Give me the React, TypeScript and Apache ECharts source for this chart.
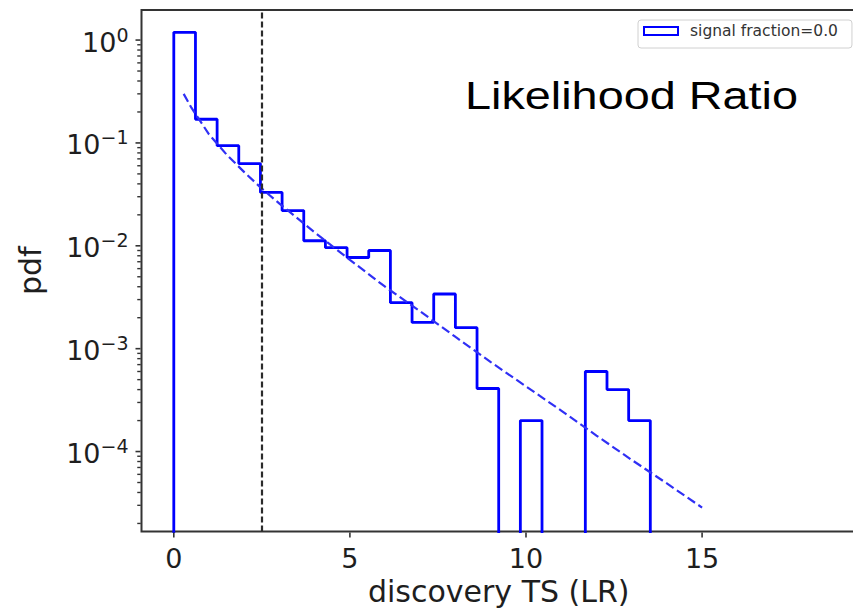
import React, { useEffect, useRef } from "react";
import * as echarts from "echarts";

// Histogram of the discovery test statistic (equal-width bins starting at 0)
const BIN_START = 0;
const BIN_WIDTH = 0.615;
const PDF_VALUES = [
  1.19, 0.17, 0.094, 0.063, 0.033, 0.022, 0.0112, 0.0096, 0.0077, 0.009,
  0.0028, 0.0018, 0.0034, 0.0016, 0.00041, 0, 0.0002, 0, 0, 0.0006,
  0.0004, 0.0002, 0, 0, 0, 0, 0, 0, 0, 0,
];

// Reference curve (dashed blue)
const FIT_X = [0.28, 0.5, 1, 1.5, 2, 2.5, 3, 4, 5, 6, 7, 8, 9, 10, 11, 12, 13, 14, 15];
const FIT_Y = [
  0.3, 0.22, 0.121, 0.077, 0.052, 0.036, 0.0257, 0.0135, 0.0073, 0.004,
  0.0023, 0.0013, 0.00074, 0.00043, 0.00025, 0.000143, 0.000083, 0.000049, 0.0000285,
];

const THRESHOLD_TS = 2.5;

const X_TICKS = [0, 5, 10, 15];
const Y_MAJOR_TICKS = [1e-4, 1e-3, 1e-2, 1e-1, 1];
const Y_MINOR_MANTISSAS = [2, 3, 4, 5, 6, 7, 8, 9];
const Y_DECADES = [-5, -4, -3, -2, -1, 0];

const X_MIN = -0.917;
const X_MAX = 19.37;
const Y_MIN = 1.67e-5;
const Y_MAX = 1.96;

const LEGEND_LABEL = "signal fraction=0.0";
const TITLE_TEXT = "Likelihood Ratio";
const X_NAME = "discovery TS (LR)";
const Y_NAME = "pdf";

const FLOOR = 1e-7; // empty bins drop below the visible range
const INK = "#1e1e1e";
const FRAME = "#333333";
const TICK_FONT = "DejaVu Sans";

function stepOutline(): number[][] {
  const pts: number[][] = [[BIN_START, FLOOR]];
  PDF_VALUES.forEach((v, i) => {
    const y = v > 0 ? v : FLOOR;
    const lo = BIN_START + i * BIN_WIDTH;
    pts.push([lo, y], [lo + BIN_WIDTH, y]);
  });
  pts.push([BIN_START + PDF_VALUES.length * BIN_WIDTH, FLOOR]);
  return pts;
}

function minorTicks(): number[] {
  const out: number[] = [];
  Y_DECADES.forEach((d) => {
    Y_MINOR_MANTISSAS.forEach((m) => {
      const v = m * Math.pow(10, d);
      if (v > Y_MIN && v < Y_MAX) out.push(v);
    });
  });
  return out;
}

// Small rectangular marks used as tick marks just outside the frame
function tickSeries(name: string, data: number[][], size: number[], offset: number[]) {
  return {
    name,
    type: "scatter",
    data,
    symbol: "rect",
    symbolSize: size,
    symbolOffset: offset,
    clip: false,
    silent: true,
    itemStyle: { color: FRAME, opacity: 1 },
    z: 6,
  };
}

export default function App() {
  const ref = useRef<HTMLDivElement>(null);

  useEffect(() => {
    if (!ref.current) return;
    const chart = echarts.init(ref.current, undefined, { renderer: "svg" });

    const option: any = {
      animation: false,
      backgroundColor: "#ffffff",
      grid: {
        left: 141.5,
        top: 10,
        right: -3,
        bottom: 80.5,
        outerBoundsMode: "none",
        show: true,
        borderColor: FRAME,
        borderWidth: 2,
        backgroundColor: "rgba(0,0,0,0)",
      },
      legend: {
        left: 638,
        top: 20,
        orient: "vertical",
        selectedMode: false,
        backgroundColor: "#ffffff",
        borderColor: "#d0d0d0",
        borderWidth: 1,
        borderRadius: 3,
        padding: [3, 14, 9, 5],
        itemWidth: 34,
        itemHeight: 8,
        textStyle: {
          fontFamily: TICK_FONT,
          fontSize: 15.5,
          color: "#333333",
          padding: [0, 0, 0, 7],
        },
        data: [
          {
            name: LEGEND_LABEL,
            icon: "rect",
            itemStyle: {
              color: "rgba(0,0,0,0)",
              borderColor: "#0000ff",
              borderWidth: 2,
            },
          },
        ],
      },
      xAxis: {
        type: "value",
        min: X_MIN,
        max: X_MAX,
        splitLine: { show: false },
        axisLine: { show: false },
        axisTick: { show: false },
        axisLabel: {
          margin: 13,
          fontFamily: TICK_FONT,
          fontSize: 27,
          color: INK,
          showMinLabel: false,
          showMaxLabel: false,
          formatter: (v: number) => (X_TICKS.includes(v) ? String(v) : ""),
        },
        name: X_NAME,
        nameLocation: "middle",
        nameGap: 39,
        nameTextStyle: { fontFamily: TICK_FONT, fontSize: 30, color: INK },
      },
      yAxis: {
        type: "log",
        logBase: 10,
        min: Y_MIN,
        max: Y_MAX,
        splitLine: { show: false },
        axisLine: { show: false },
        axisTick: { show: false },
        minorTick: { show: false },
        axisLabel: {
          margin: 13,
          formatter: (v: number) => {
            const lg = Math.log10(v);
            const e = Math.round(lg);
            if (Math.abs(lg - e) > 1e-6) return "";
            const exp = e < 0 ? "\u2212" + -e : String(e);
            return `{b|10}{s|${exp}}`;
          },
          rich: {
            b: {
              fontFamily: TICK_FONT,
              fontSize: 27,
              color: INK,
              lineHeight: 30,
              padding: [4, 0, 0, 0],
            },
            s: {
              fontFamily: TICK_FONT,
              fontSize: 19,
              color: INK,
              verticalAlign: "top",
              lineHeight: 20,
            },
          },
        },
        name: Y_NAME,
        nameLocation: "middle",
        nameGap: 96,
        nameTextStyle: { fontFamily: TICK_FONT, fontSize: 30, color: INK },
      },
      series: [
        {
          name: LEGEND_LABEL,
          type: "line",
          data: stepOutline(),
          symbol: "none",
          showSymbol: false,
          clip: true,
          lineStyle: { color: "#0000ff", width: 2.8 },
          itemStyle: { color: "#0000ff" },
          z: 3,
          markLine: {
            silent: true,
            symbol: ["none", "none"],
            label: { show: false },
            lineStyle: { color: "#2b2b2b", width: 2.2, type: [6, 3] },
            data: [{ xAxis: THRESHOLD_TS }],
          },
        },
        {
          name: "fit",
          type: "line",
          data: FIT_X.map((x, i) => [x, FIT_Y[i]]),
          symbol: "none",
          showSymbol: false,
          clip: true,
          lineStyle: { color: "#3030f5", width: 2.2, type: [9, 4] },
          z: 4,
        },
        tickSeries(
          "yMajorTicks",
          Y_MAJOR_TICKS.map((v) => [X_MIN, v]),
          [5, 1.6],
          [-3.5, 0]
        ),
        tickSeries(
          "yMinorTicks",
          minorTicks().map((v) => [X_MIN, v]),
          [3.5, 1.4],
          [-2.5, 0]
        ),
        tickSeries(
          "xTicks",
          X_TICKS.map((v) => [v, Y_MIN]),
          [1.6, 5],
          [0, 3.5]
        ),
      ],
      graphic: [
        {
          type: "text",
          x: 465,
          y: 95,
          scaleX: 1.2,
          style: {
            text: TITLE_TEXT,
            fontFamily: "Liberation Sans",
            fontSize: 39,
            fill: "#000000",
            align: "left",
            verticalAlign: "middle",
          },
          z: 10,
        },
      ],
    };

    chart.setOption(option);
    return () => chart.dispose();
  }, []);

  return (
    <div
      ref={ref}
      style={{ position: "absolute", left: 0, top: 0, width: 853, height: 612 }}
    />
  );
}
